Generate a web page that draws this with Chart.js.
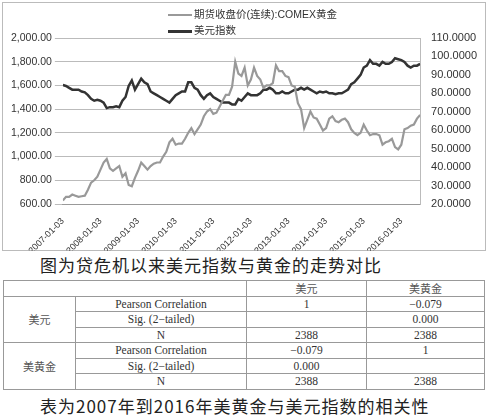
<!DOCTYPE html>
<html><head><meta charset="utf-8">
<script src="https://cdn.jsdelivr.net/npm/chart.js@4"></script>
<style>
body{margin:0;width:488px;background:#fff;font-family:"Liberation Serif","Noto Sans CJK SC",serif}
#box{position:absolute;left:2px;top:2px;width:482px;height:247px;border:1px solid #bbb}
#c{position:absolute;left:2px;top:2px}
#leg{position:absolute;left:168px;top:6px;font-family:"Liberation Sans","Noto Sans CJK SC",sans-serif;font-size:10.5px;color:#333;line-height:16px}
#leg i{display:inline-block;width:24px;height:0;vertical-align:middle;margin-right:2px}
.cap{position:absolute;left:0;width:488px;font-family:"Noto Sans CJK SC";font-size:17px;color:#222;letter-spacing:1px}
table{position:absolute;left:3px;top:280px;width:482px;border-collapse:collapse;table-layout:fixed;font-size:11.5px;color:#333}
td{border:1px solid #999;text-align:center;height:14.5px;padding:0;line-height:14px}
td.cn{font-family:"Noto Sans CJK SC";font-size:11px;color:#555}
</style></head><body>
<div id="box"></div>
<canvas id="c" width="482" height="249"></canvas>
<div id="leg"></div>
<div class="cap" style="top:252px;left:40px">图为贷危机以来美元指数与黄金的走势对比</div>
<table>
<colgroup><col style="width:72px"><col style="width:171px"><col style="width:120px"><col></colgroup>
<tr><td colspan="2"></td><td class="cn">美元</td><td class="cn">美黄金</td></tr>
<tr><td rowspan="3" class="cn">美元</td><td>Pearson Correlation</td><td>1</td><td>−0.079</td></tr>
<tr><td>Sig. (2−tailed)</td><td></td><td>0.000</td></tr>
<tr><td>N</td><td>2388</td><td>2388</td></tr>
<tr><td rowspan="3" class="cn">美黄金</td><td>Pearson Correlation</td><td>−0.079</td><td>1</td></tr>
<tr><td>Sig. (2−tailed)</td><td>0.000</td><td></td></tr>
<tr><td>N</td><td>2388</td><td>2388</td></tr>
</table>
<div class="cap" style="top:393px;left:40px">表为2007年到2016年美黄金与美元指数的相关性</div>
<script>
const seriesNames = ['期货收盘价(连续):COMEX黄金', '美元指数'];
const seriesColors = ['#999', '#333'];
// monthly values, Jan 2007 .. Jul 2016
const gold = [
 630,660,660,680,670,660,665,670,720,780,800,830,
 890,950,980,900,880,900,920,830,860,760,750,820,
 880,950,920,890,920,940,950,950,1000,1040,1120,1150,
 1100,1110,1110,1150,1200,1240,1190,1230,1270,1340,1380,1400,
 1360,1370,1420,1470,1520,1520,1590,1800,1700,1680,1750,1600,
 1650,1750,1680,1650,1580,1600,1600,1620,1770,1720,1720,1680,
 1670,1600,1590,1450,1400,1240,1310,1380,1330,1320,1270,1220,
 1240,1320,1340,1300,1290,1310,1320,1290,1230,1200,1180,1200,
 1270,1220,1180,1190,1190,1180,1100,1120,1130,1150,1080,1060,
 1100,1230,1240,1260,1270,1320,1350];
const usd = [
 84.5,84,83,82,82,82,81,80.5,79,77,76,76.5,
 76,75,72,72.5,72.5,73,72.5,76,78,84,87,82,
 85,88,86,85,81,80,79,78,77,76,75,77,
 79,80,81,81,86,86,83,82,79,77,79,80,
 78,77,76,75,75,75,74,74,77,76,78,80,
 79,79,79,80,82,82,83,82,80,80,81,80,
 80,81,82,82,83,82,83,82,81,80,81,80.5,
 81,80,80,79.5,80,80,81,82,85,86,88,90,
 94,95,98,96,96,95,97,96,96,97,99,98.5,
 98,97,95,94,95,95,96];
document.getElementById('leg').innerHTML = seriesNames.map((n,i)=>
  '<div><i style="border-top:'+(i?3:2)+'px solid '+seriesColors[i]+'"></i>'+n+'</div>').join('');
const toXY = arr => arr.map((v,i)=>({x:i, y:v}));
const font = {family:'"Liberation Sans",sans-serif', size:10.5};
new Chart(document.getElementById('c'), {
  type:'line',
  data:{datasets:[
    {label:seriesNames[0], data:toXY(gold), borderColor:seriesColors[0], borderWidth:2.2, pointRadius:0, yAxisID:'y', tension:0},
    {label:seriesNames[1], data:toXY(usd), borderColor:seriesColors[1], borderWidth:2.5, pointRadius:0, yAxisID:'y1', tension:0}
  ]},
  options:{
    responsive:false, animation:false,
    layout:{padding:{left:6,right:4,top:36,bottom:0}},
    plugins:{legend:{display:false}, tooltip:{enabled:false}},
    scales:{
      x:{type:'linear', min:0, max:114, grid:{display:false}, border:{color:'#999'},
         afterFit:s=>{s.height=47},
         ticks:{stepSize:12, maxRotation:45, minRotation:45, padding:4, color:'#333', font:{family:font.family,size:9},
           callback:v=> v%12===0 && v<114 ? (2007+v/12)+'-01-03' : ''}},
      y:{min:600, max:2000, ticks:{stepSize:200, color:'#333', font:font,
           callback:v=>v.toLocaleString('en-US',{minimumFractionDigits:2})}, grid:{color:'#bbb'}, border:{display:false}},
      y1:{position:'right', min:20, max:110, ticks:{stepSize:10, color:'#333', font:{family:font.family,size:11}, callback:v=>v.toFixed(4)},
          grid:{display:false}, border:{color:'#bbb'}}
    }
  }
});
</script>
</body></html>
